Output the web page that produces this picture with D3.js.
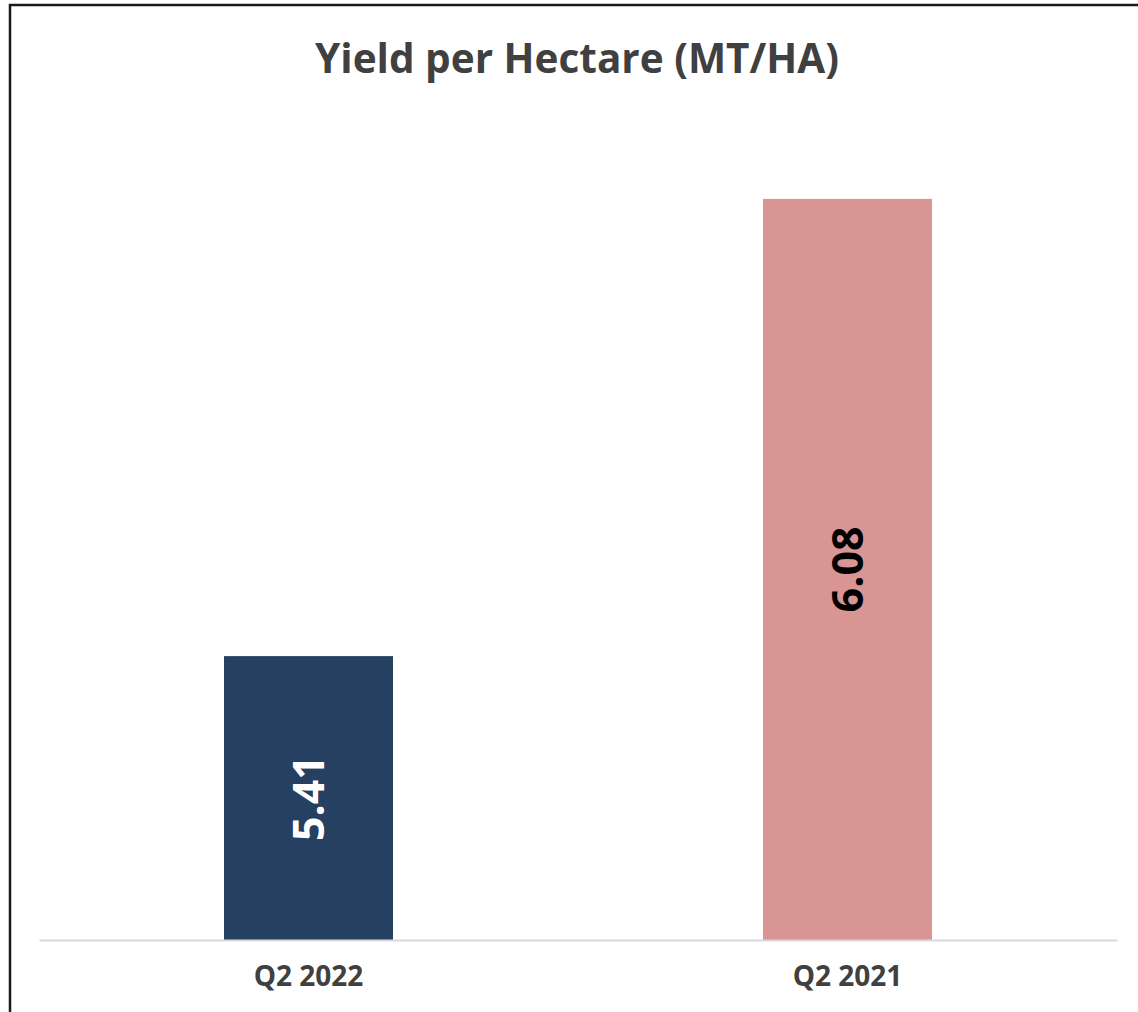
<!DOCTYPE html>
<html>
<head>
<meta charset="utf-8">
<script src="https://cdn.jsdelivr.net/npm/d3@7"></script>
<style>
  html, body { margin: 0; padding: 0; background: #fff; }
  svg { display: block; }
  .title { font-family: 'Open Sans', sans-serif; font-weight: 700; fill: #404040; }
  .x-axis text { font-family: 'Open Sans', sans-serif; font-weight: 700; fill: #404040; }
  .bar__value { font-family: 'Open Sans', sans-serif; font-weight: 700; }
</style>
</head>
<body>
<svg id="chart"></svg>
<script>
const categories = ['Q2 2022', 'Q2 2021'];
const values = [5.41, 6.08];
const barColors = ['#264061', '#D99594'];
const labelColors = ['#ffffff', '#000000'];
const titleText = 'Yield per Hectare (MT/HA)';

const width = 1138;
const height = 1012;
const margin = { top: 117, right: 21, bottom: 72, left: 39 };

const chart = d3.select('#chart').attr('width', width).attr('height', height);

// outer frame, runs off the right / bottom edge like the screenshot
chart.append('rect')
  .attr('x', 10).attr('y', 5)
  .attr('width', width + 20).attr('height', height + 20)
  .attr('fill', 'none')
  .attr('stroke', '#1a1a1a')
  .attr('stroke-width', 2.5);

chart.append('text')
  .attr('class', 'title')
  .attr('x', 577)
  .attr('y', 73)
  .attr('text-anchor', 'middle')
  .style('font-size', '40.5px')
  .text(titleText);

const xScale = d3.scaleBand()
  .domain(categories)
  .range([margin.left, width - margin.right])
  .paddingInner(0.6865)
  .paddingOuter(0.6865 / 2);

// axis min is not zero in the original (value axis hidden)
const yScale = d3.scaleLinear()
  .domain([4.994, 6.2])
  .range([height - margin.bottom, margin.top]);

const data = categories.map((c, i) => ({ cat: c, value: values[i], color: barColors[i], label: labelColors[i] }));

chart.selectAll('.bar')
  .data(data)
  .enter()
  .append('rect')
  .attr('class', 'bar')
  .attr('x', d => xScale(d.cat))
  .attr('y', d => yScale(d.value))
  .attr('width', xScale.bandwidth())
  .attr('height', d => yScale.range()[0] - yScale(d.value))
  .attr('fill', d => d.color);

chart.selectAll('.bar__value')
  .data(data)
  .enter()
  .append('text')
  .attr('class', 'bar__value')
  .attr('transform', d => {
    const cx = xScale(d.cat) + xScale.bandwidth() / 2;
    const cy = (yScale(d.value) + yScale.range()[0]) / 2;
    return `translate(${cx},${cy}) rotate(-90)`;
  })
  .attr('text-anchor', 'middle')
  .attr('dy', '0.36em')
  .style('font-size', '43px')
  .style('fill', d => d.label)
  .text(d => d.value.toFixed(2));

const xAxis = g => g
  .attr('transform', `translate(0,${height - margin.bottom})`)
  .call(d3.axisBottom(xScale).tickSize(0).tickPadding(26).tickSizeOuter(0));

const gx = chart.append('g').attr('class', 'x-axis axis').call(xAxis);
gx.select('.domain').attr('stroke', '#D9D9D9').attr('stroke-width', 2);
gx.selectAll('text').style('font-size', '28px');
</script>
</body>
</html>
